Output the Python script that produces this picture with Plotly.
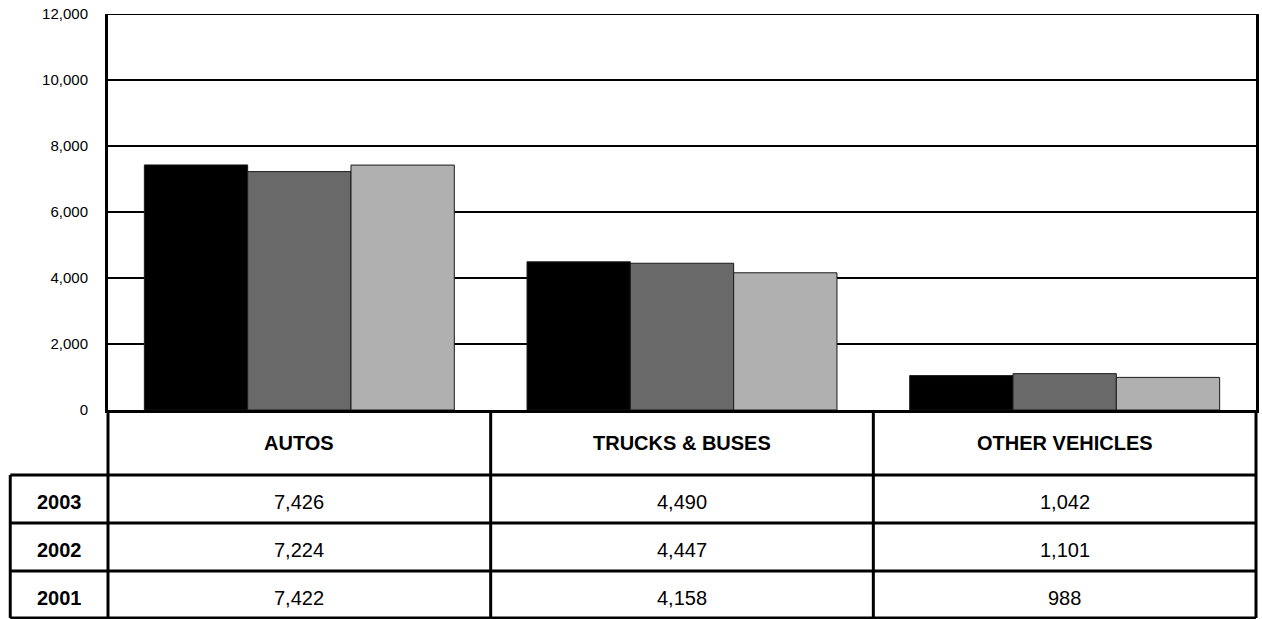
import plotly.graph_objects as go

# Vehicle registrations (thousands) by category and year
categories = ["AUTOS", "TRUCKS & BUSES", "OTHER VEHICLES"]
years = ["2003", "2002", "2001"]
values_2003 = [7426, 4490, 1042]
values_2002 = [7224, 4447, 1101]
values_2001 = [7422, 4158, 988]
bar_colors = ["#000000", "#696969", "#b0b0b0"]
y_ticks = [0, 2000, 4000, 6000, 8000, 10000, 12000]

series = [values_2003, values_2002, values_2001]

W, H = 1262, 619
ML, MR, MT, MB = 108, 3, 14, 209
PW, PH = W - ML - MR, H - MT - MB
FONT = "Liberation Sans, Arial, sans-serif"


def px_x(x):
    return (x - ML) / PW


def px_y(y):
    return (H - MB - y) / PH


fig = go.Figure()
for yr, vals, col in zip(years, series, bar_colors):
    fig.add_trace(go.Bar(
        x=categories, y=vals, name=yr,
        marker=dict(color=col, line=dict(color="#1a1a1a", width=1)),
        hoverinfo="skip",
    ))

# Data table under the plot
row_edges = [410, 475, 523, 571, 618]
left_x = 10
right_x = W - MR
shapes = []
line = dict(color="black", width=3)
# top border of the plot at the highest gridline
shapes.append(dict(type="line", xref="paper", yref="y", x0=0, x1=1,
                   y0=y_ticks[-1], y1=y_ticks[-1], line=dict(color="black", width=2)))
# horizontal lines
for y in row_edges[1:]:
    shapes.append(dict(type="line", xref="paper", yref="paper",
                       x0=px_x(left_x), x1=px_x(right_x),
                       y0=px_y(y), y1=px_y(y), line=line))
# vertical lines
shapes.append(dict(type="line", xref="paper", yref="paper",
                   x0=px_x(left_x), x1=px_x(left_x),
                   y0=px_y(row_edges[1]), y1=px_y(row_edges[-1]), line=line))
shapes.append(dict(type="line", xref="paper", yref="paper",
                   x0=0, x1=0, y0=0, y1=px_y(row_edges[-1]), line=line))
for i in range(1, len(categories)):
    shapes.append(dict(type="line", xref="x", yref="paper",
                       x0=i - 0.5, x1=i - 0.5, y0=0, y1=px_y(row_edges[-1]), line=line))
shapes.append(dict(type="line", xref="paper", yref="paper",
                   x0=1, x1=1, y0=0, y1=px_y(row_edges[-1]), line=line))

annotations = []
hdr_y = px_y((row_edges[0] + row_edges[1]) / 2)
for i, c in enumerate(categories):
    annotations.append(dict(x=i, y=hdr_y, xref="x", yref="paper", text=f"<b>{c}</b>",
                            showarrow=False, xanchor="center", yanchor="middle",
                            font=dict(family=FONT, size=20, color="black")))
for r, (yr, vals) in enumerate(zip(years, series)):
    yc = px_y((row_edges[r + 1] + row_edges[r + 2]) / 2 + 3)
    annotations.append(dict(x=px_x((left_x + ML) / 2), y=yc, xref="paper", yref="paper",
                            text=f"<b>{yr}</b>", showarrow=False,
                            xanchor="center", yanchor="middle",
                            font=dict(family=FONT, size=20, color="black")))
    for i, v in enumerate(vals):
        annotations.append(dict(x=i, y=yc, xref="x", yref="paper", text=f"{v:,}",
                                showarrow=False, xanchor="center", yanchor="middle",
                                font=dict(family=FONT, size=20, color="black")))

fig.update_layout(
    width=W, height=H,
    margin=dict(l=ML, r=MR, t=MT, b=MB),
    paper_bgcolor="white", plot_bgcolor="white",
    barmode="group", bargap=0.19, bargroupgap=0,
    showlegend=False,
    font=dict(family=FONT, color="black"),
    shapes=shapes, annotations=annotations,
    xaxis=dict(showticklabels=False, ticks="", showgrid=False, zeroline=False,
               showline=True, linecolor="black", linewidth=3,
               range=[-0.5, len(categories) - 0.5]),
    yaxis=dict(range=[0, 12000], tickvals=y_ticks, tickformat=",d",
               tickfont=dict(family=FONT, size=15, color="black"),
               ticks="", ticklabelstandoff=14,
               showgrid=True, gridcolor="black", gridwidth=2,
               zeroline=False, showline=True, mirror=True,
               linecolor="black", linewidth=3),
)

fig.write_html("out.html")
